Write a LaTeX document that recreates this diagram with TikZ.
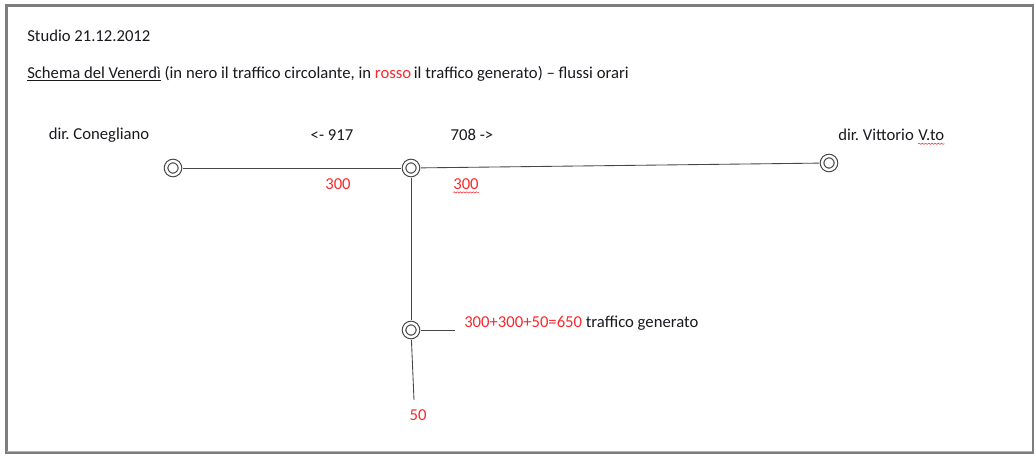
\documentclass[tikz,border=0pt]{standalone}
\usepackage{fontspec}
\setmainfont{Carlito}
\frenchspacing
\usetikzlibrary{decorations.pathmorphing,positioning}
\definecolor{rosso}{RGB}{250,40,45}
\definecolor{nero}{RGB}{25,25,30}
\definecolor{strada}{RGB}{70,70,70}
\definecolor{cornice}{RGB}{125,125,125}

\tikzset{
  incrocio/.style={circle, draw=strada, line width=0.85pt, double, double distance=1.8pt,
    minimum size=10.4pt, inner sep=0pt, outer sep=2.2pt},
  testo/.style={text=nero, inner sep=0pt, font=\fontsize{12.5}{15}\selectfont},
  flusso/.style={testo, text=rosso},
  ramo/.style={draw=strada, line width=0.65pt},
  ondina/.style={draw=rosso, line width=0.4pt, decorate,
    decoration={snake, amplitude=0.45pt, segment length=2.4pt}}
}

\begin{document}
\begin{tikzpicture}[x=0.75pt,y=-0.75pt]
    % --- cornice ---
    \useasboundingbox (0,0) rectangle (1036,456);
    \fill[white] (0,0) rectangle (1036,456);
    \draw[cornice, line width=1.6pt] (6.5,5.5) rectangle (1033,453);
    \draw[cornice!60, line width=0.8pt] (7,451.5) -- (1032,451.5);

    % --- intestazione ---
    \node[testo, anchor=west] (titolo) at (27,36) {Studio 21.12.2012};
    \node[testo, anchor=west] (legenda) at (27,74)
      {\underline{Schema del Venerdì} (in nero il traffico circolante, in \textcolor{rosso}{rosso}\,il traffico generato) -- flussi orari};

    % --- incroci ---
    \node[incrocio] (cone) at (173,168) {};
    \node[incrocio] (nodo) at (411,168) {};
    \node[incrocio] (vitt) at (829,163) {};
    \node[incrocio] (gen) at (411,330) {};
    \coordinate (genE) at (455,330);
    \coordinate (genS) at (414,400);

    \draw[ramo] (cone) -- (nodo);
    \draw[ramo] (nodo) -- (vitt);
    \draw[ramo] (nodo) -- (gen);
    \draw[ramo] (gen) -- (genE);
    \draw[ramo] (gen) -- (genS);

    % --- direzioni e flussi ---
    \node[testo] (dirC) at (99,135) {dir. Conegliano};
    \node[testo] (ovest) at (332,135) {<- 917};
    \node[testo] (est) at (472,135) {708 ->};
    \node[testo, anchor=west] (dirV) at (838,135) {dir. Vittorio};
    \node[testo, anchor=base west, xshift=3pt] (vto) at (dirV.base east) {V.to};

    \node[flusso] (rossoA) at (338,184) {300};
    \node[flusso] (rossoB) at (466,184) {300};
    \node[flusso] (rossoS) at (418,415) {50};
    \node[testo, anchor=west] (somma) at (464,323)
      {\textcolor{rosso}{300+300+50=650} traffico generato};

    \draw[ondina] ([yshift=-2pt]vto.south west) -- ([yshift=-2pt]vto.south east);
    \draw[ondina] ([yshift=-2pt]rossoB.south west) -- ([yshift=-2pt]rossoB.south east);
\end{tikzpicture}
\end{document}
